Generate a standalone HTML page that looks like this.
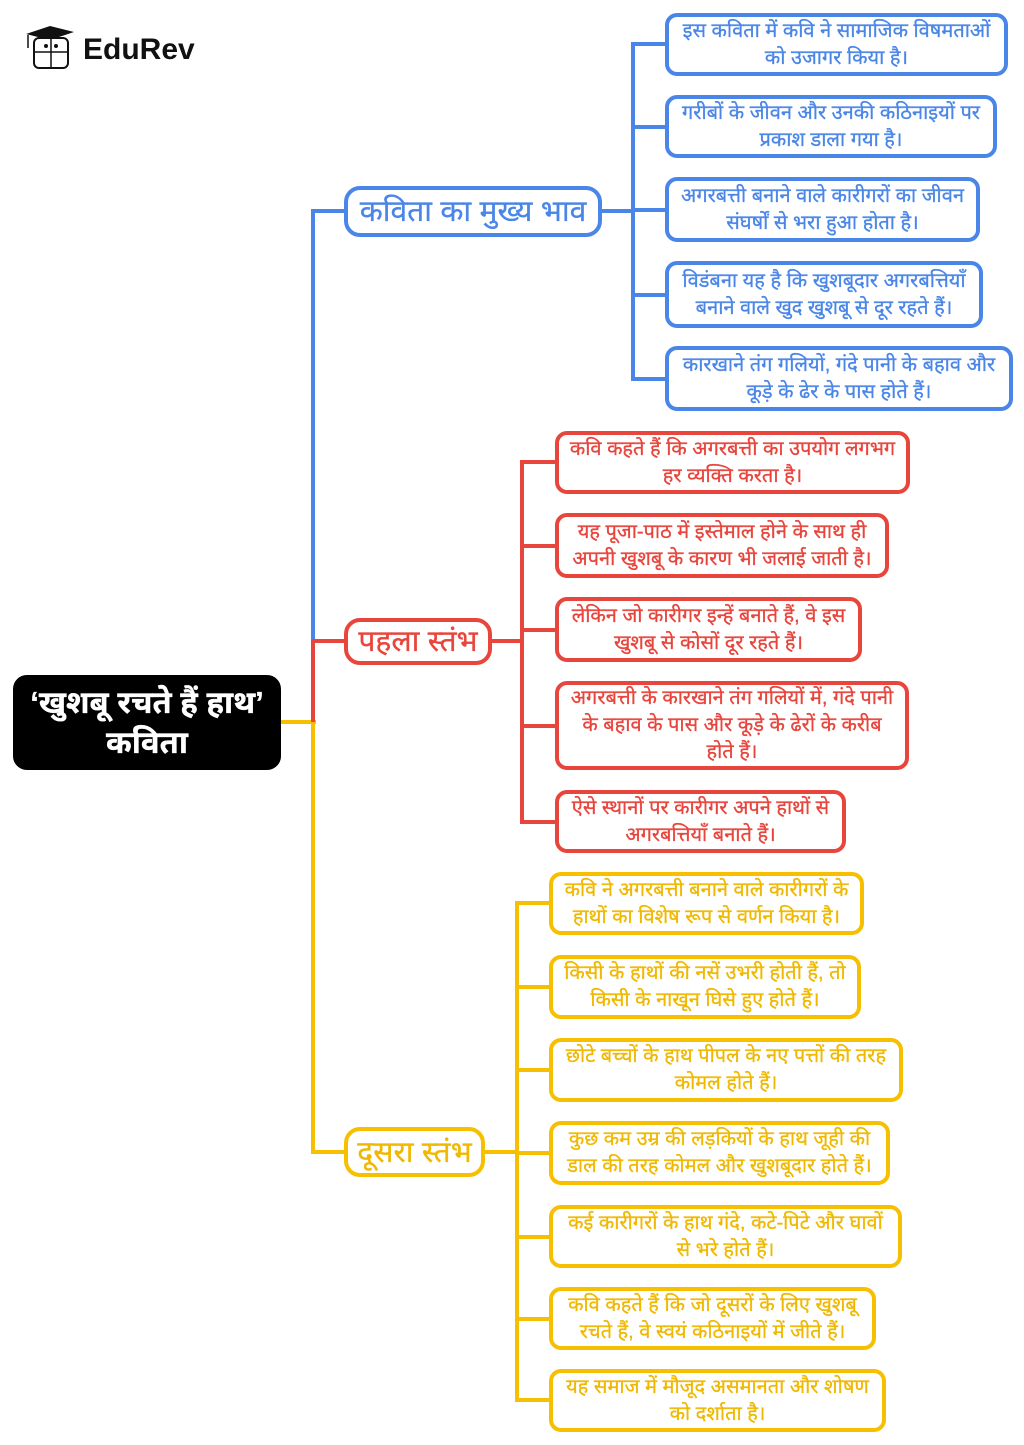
<!DOCTYPE html>
<html><head><meta charset="utf-8"><style>
body{margin:0;width:1024px;height:1445px;background:#fff;position:relative;overflow:hidden;font-family:"Liberation Sans","Noto Sans Devanagari","Lohit Devanagari",sans-serif}
.l{position:absolute}
.b{position:absolute;box-sizing:border-box;border:4px solid;border-radius:12px;background:#fff;display:flex;align-items:center;justify-content:center;text-align:center;font-size:20px;line-height:27px;padding:0;white-space:nowrap;-webkit-text-stroke:0.3px currentColor}
.B{border-color:#4a86e8;color:#4a86e8}.R{border-color:#e8453c;color:#e8453c}.Y{border-color:#f6c000;color:#f0b800}
.n{font-size:30px;border-radius:16px}
</style></head><body>
<div class="l" style="left:24px;top:24px;width:48px;height:46px">
<svg width="50" height="48" viewBox="0 0 50 48"><polygon points="2,10 26,2 50,8 26,16" fill="#111"/><line x1="4" y1="11" x2="4" y2="24" stroke="#111" stroke-width="1.5"/><rect x="10" y="14" width="34" height="30" rx="5" fill="#fff" stroke="#111" stroke-width="2"/><line x1="10" y1="28" x2="44" y2="28" stroke="#111" stroke-width="1.5"/><line x1="27" y1="14" x2="27" y2="44" stroke="#111" stroke-width="1.5"/><circle cx="22" cy="22" r="2" fill="#111"/><circle cx="32" cy="22" r="2" fill="#111"/></svg></div>
<div class="l" style="left:83px;top:33px;font-size:30px;font-weight:bold;color:#111">EduRev</div>

<div class="l" style="left:281px;top:720px;width:35px;height:4px;background:#f6c000"></div>
<div class="l" style="left:311px;top:209px;width:4px;height:432px;background:#4a86e8"></div>
<div class="l" style="left:311px;top:209px;width:34px;height:4px;background:#4a86e8"></div>
<div class="l" style="left:311px;top:639px;width:4px;height:83px;background:#e8453c"></div>
<div class="l" style="left:311px;top:639px;width:34px;height:4px;background:#e8453c"></div>
<div class="l" style="left:311px;top:722px;width:4px;height:432px;background:#f6c000"></div>
<div class="l" style="left:311px;top:1150px;width:34px;height:4px;background:#f6c000"></div>

<div class="l" style="left:602px;top:209px;width:33px;height:4px;background:#4a86e8"></div>
<div class="l" style="left:631px;top:42px;width:4px;height:339px;background:#4a86e8"></div>
<div class="l" style="left:631px;top:42px;width:36px;height:4px;background:#4a86e8"></div>
<div class="l" style="left:631px;top:125px;width:36px;height:4px;background:#4a86e8"></div>
<div class="l" style="left:631px;top:208px;width:36px;height:4px;background:#4a86e8"></div>
<div class="l" style="left:631px;top:293px;width:36px;height:4px;background:#4a86e8"></div>
<div class="l" style="left:631px;top:377px;width:36px;height:4px;background:#4a86e8"></div>

<div class="l" style="left:492px;top:639px;width:32px;height:4px;background:#e8453c"></div>
<div class="l" style="left:520px;top:460px;width:4px;height:364px;background:#e8453c"></div>
<div class="l" style="left:520px;top:460px;width:37px;height:4px;background:#e8453c"></div>
<div class="l" style="left:520px;top:544px;width:37px;height:4px;background:#e8453c"></div>
<div class="l" style="left:520px;top:628px;width:37px;height:4px;background:#e8453c"></div>
<div class="l" style="left:520px;top:724px;width:37px;height:4px;background:#e8453c"></div>
<div class="l" style="left:520px;top:820px;width:37px;height:4px;background:#e8453c"></div>

<div class="l" style="left:485px;top:1150px;width:34px;height:4px;background:#f6c000"></div>
<div class="l" style="left:515px;top:901px;width:4px;height:501px;background:#f6c000"></div>
<div class="l" style="left:515px;top:901px;width:36px;height:4px;background:#f6c000"></div>
<div class="l" style="left:515px;top:985px;width:36px;height:4px;background:#f6c000"></div>
<div class="l" style="left:515px;top:1068px;width:36px;height:4px;background:#f6c000"></div>
<div class="l" style="left:515px;top:1151px;width:36px;height:4px;background:#f6c000"></div>
<div class="l" style="left:515px;top:1235px;width:36px;height:4px;background:#f6c000"></div>
<div class="l" style="left:515px;top:1317px;width:36px;height:4px;background:#f6c000"></div>
<div class="l" style="left:515px;top:1398px;width:36px;height:4px;background:#f6c000"></div>

<div class="b" style="left:13px;top:675px;width:268px;height:95px;background:#000;border-color:#000;color:#fff;font-size:31px;line-height:40px;font-weight:bold;border-radius:14px">‘खुशबू रचते हैं हाथ’<br>कविता</div>

<div class="b B n" style="left:344px;top:186px;width:258px;height:51px">कविता का मुख्य भाव</div>
<div class="b R n" style="left:344px;top:618px;width:148px;height:47px">पहला स्तंभ</div>
<div class="b Y n" style="left:344px;top:1127px;width:141px;height:50px">दूसरा स्तंभ</div>

<div class="b B" style="left:665px;top:13px;width:343px;height:63px">इस कविता में कवि ने सामाजिक विषमताओं<br>को उजागर किया है।</div>
<div class="b B" style="left:665px;top:95px;width:332px;height:63px">गरीबों के जीवन और उनकी कठिनाइयों पर<br>प्रकाश डाला गया है।</div>
<div class="b B" style="left:665px;top:177px;width:315px;height:65px">अगरबत्ती बनाने वाले कारीगरों का जीवन<br>संघर्षों से भरा हुआ होता है।</div>
<div class="b B" style="left:665px;top:261px;width:318px;height:67px">विडंबना यह है कि खुशबूदार अगरबत्तियाँ<br>बनाने वाले खुद खुशबू से दूर रहते हैं।</div>
<div class="b B" style="left:665px;top:346px;width:348px;height:65px">कारखाने तंग गलियों, गंदे पानी के बहाव और<br>कूड़े के ढेर के पास होते हैं।</div>

<div class="b R" style="left:555px;top:431px;width:355px;height:63px">कवि कहते हैं कि अगरबत्ती का उपयोग लगभग<br>हर व्यक्ति करता है।</div>
<div class="b R" style="left:555px;top:513px;width:334px;height:65px">यह पूजा-पाठ में इस्तेमाल होने के साथ ही<br>अपनी खुशबू के कारण भी जलाई जाती है।</div>
<div class="b R" style="left:555px;top:597px;width:307px;height:65px">लेकिन जो कारीगर इन्हें बनाते हैं, वे इस<br>खुशबू से कोसों दूर रहते हैं।</div>
<div class="b R" style="left:555px;top:681px;width:354px;height:89px">अगरबत्ती के कारखाने तंग गलियों में, गंदे पानी<br>के बहाव के पास और कूड़े के ढेरों के करीब<br>होते हैं।</div>
<div class="b R" style="left:555px;top:790px;width:291px;height:63px">ऐसे स्थानों पर कारीगर अपने हाथों से<br>अगरबत्तियाँ बनाते हैं।</div>

<div class="b Y" style="left:549px;top:872px;width:315px;height:63px">कवि ने अगरबत्ती बनाने वाले कारीगरों के<br>हाथों का विशेष रूप से वर्णन किया है।</div>
<div class="b Y" style="left:549px;top:955px;width:312px;height:64px">किसी के हाथों की नसें उभरी होती हैं, तो<br>किसी के नाखून घिसे हुए होते हैं।</div>
<div class="b Y" style="left:549px;top:1038px;width:354px;height:64px">छोटे बच्चों के हाथ पीपल के नए पत्तों की तरह<br>कोमल होते हैं।</div>
<div class="b Y" style="left:549px;top:1121px;width:341px;height:64px">कुछ कम उम्र की लड़कियों के हाथ जूही की<br>डाल की तरह कोमल और खुशबूदार होते हैं।</div>
<div class="b Y" style="left:549px;top:1205px;width:353px;height:63px">कई कारीगरों के हाथ गंदे, कटे-पिटे और घावों<br>से भरे होते हैं।</div>
<div class="b Y" style="left:549px;top:1287px;width:327px;height:63px">कवि कहते हैं कि जो दूसरों के लिए खुशबू<br>रचते हैं, वे स्वयं कठिनाइयों में जीते हैं।</div>
<div class="b Y" style="left:549px;top:1369px;width:337px;height:63px">यह समाज में मौजूद असमानता और शोषण<br>को दर्शाता है।</div>
</body></html>
